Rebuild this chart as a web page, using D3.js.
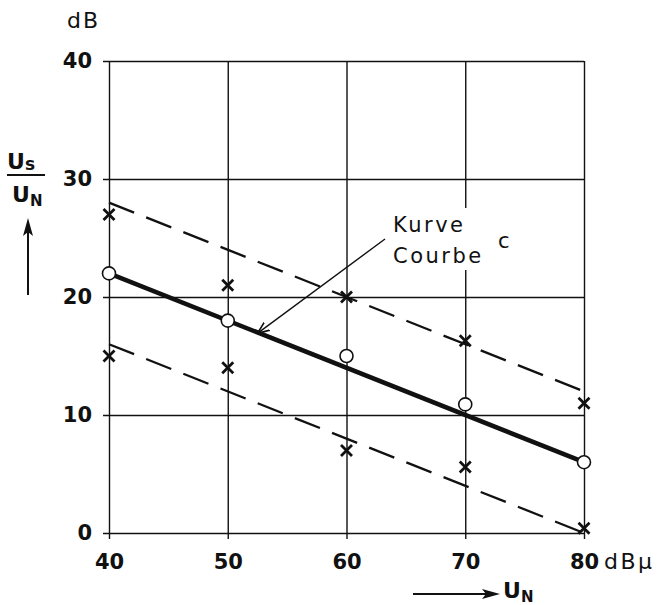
<!DOCTYPE html>
<html>
<head>
<meta charset="utf-8">
<script src="https://cdn.jsdelivr.net/npm/d3@7"></script>
<style>
  body { margin: 0; background: #fff; }
  text { font-family: "DejaVu Sans", sans-serif; fill: #111; }
</style>
</head>
<body>
<svg id="chart" width="662" height="605"></svg>
<script>
// values
const xTicks = [40, 50, 60, 70, 80]
const yTicks = [0, 10, 20, 30, 40]
const measuredN = [40, 50, 60, 70, 80]
const circleVals = [22, 18, 15, 10.9, 6]
const upperCross = [27, 21, 20, 16.3, 11]
const lowerCross = [15, 14, 7, 5.6, 0.4]
const curveC = [[40, 22], [80, 6]]
const upperBand = [[40, 28], [80, 12]]
const lowerBand = [[40, 16], [80, 0]]
const arrowTip = [52.5, 17]

const margin = {top: 61, bottom: 72, left: 109, right: 78}
const svg = d3.select('#chart')
const W = +svg.attr('width'), H = +svg.attr('height')
const w = W - margin.left - margin.right
const h = H - margin.top - margin.bottom

const x = d3.scaleLinear().domain([40, 80]).range([margin.left, margin.left + w])
const y = d3.scaleLinear().domain([0, 40]).range([margin.top + h, margin.top])

// grid = axes with long ticks
const yAxis = svg.append('g')
    .attr('transform', 'translate(' + (margin.left - 6) + ',0)')
    .call(d3.axisLeft(y).tickValues(yTicks).tickSize(-(w + 6)).tickSizeOuter(0).tickPadding(11))
yAxis.select('.domain').remove()
yAxis.selectAll('line').attr('stroke', '#111').attr('stroke-width', 1.4)
yAxis.selectAll('text')
    .style('font-family', '"DejaVu Sans", sans-serif')
    .style('font-weight', 'bold')
    .style('font-size', '21px')
    .attr('fill', '#111')

const xAxis = svg.append('g')
    .attr('transform', 'translate(0,' + (margin.top + h + 6) + ')')
    .call(d3.axisBottom(x).tickValues(xTicks).tickSize(-(h + 6)).tickSizeOuter(0).tickPadding(15))
xAxis.select('.domain').remove()
xAxis.selectAll('line').attr('stroke', '#111').attr('stroke-width', 1.4)
xAxis.selectAll('text')
    .style('font-family', '"DejaVu Sans", sans-serif')
    .style('font-weight', 'bold')
    .style('font-size', '21px')
    .attr('fill', '#111')

// white box behind the label knocks out the grid line
svg.append('rect')
    .attr('x', 388).attr('y', 208).attr('width', 122).attr('height', 62)
    .attr('fill', '#fff')

const line = d3.line().x(d => x(d[0])).y(d => y(d[1]))

svg.append('path').datum(upperBand).attr('d', line)
    .attr('fill', 'none').attr('stroke', '#111').attr('stroke-width', 2.3)
    .attr('stroke-dasharray', '27,13')
svg.append('path').datum(lowerBand).attr('d', line)
    .attr('fill', 'none').attr('stroke', '#111').attr('stroke-width', 2.3)
    .attr('stroke-dasharray', '27,13')
svg.append('path').datum(curveC).attr('d', line)
    .attr('fill', 'none').attr('stroke', '#111').attr('stroke-width', 4.5)

// circles
svg.append('g').selectAll('circle')
    .data(measuredN.map((n, i) => [n, circleVals[i]]))
    .enter().append('circle')
    .attr('cx', d => x(d[0])).attr('cy', d => y(d[1])).attr('r', 6.5)
    .attr('fill', '#fff').attr('stroke', '#111').attr('stroke-width', 1.6)

// crosses
const crossData = measuredN.map((n, i) => [n, upperCross[i]])
    .concat(measuredN.map((n, i) => [n, lowerCross[i]]))
svg.append('g').selectAll('path')
    .data(crossData)
    .enter().append('path')
    .attr('d', d => {
        const cx = x(d[0]), cy = y(d[1]), s = 5.5
        return 'M' + (cx - s) + ',' + (cy - s) + 'L' + (cx + s) + ',' + (cy + s) +
            'M' + (cx - s) + ',' + (cy + s) + 'L' + (cx + s) + ',' + (cy - s)
    })
    .attr('stroke', '#111').attr('stroke-width', 2.8)

// annotation
svg.append('defs').append('marker')
    .attr('id', 'head').attr('viewBox', '0 0 10 10')
    .attr('refX', 10).attr('refY', 5)
    .attr('markerWidth', 12).attr('markerHeight', 12)
    .attr('markerUnits', 'userSpaceOnUse')
    .attr('orient', 'auto')
    .append('path').attr('d', 'M0,1L10,5L0,9').attr('fill', 'none')
    .attr('stroke', '#111').attr('stroke-width', 1.4)

svg.append('line')
    .attr('x1', 385).attr('y1', 239)
    .attr('x2', x(arrowTip[0])).attr('y2', y(arrowTip[1]) + 1)
    .attr('stroke', '#111').attr('stroke-width', 1.4)
    .attr('marker-end', 'url(#head)')

svg.append('text').attr('x', 393).attr('y', 232)
    .style('font-size', '21px').style('letter-spacing', '2.5px').text('Kurve')
svg.append('text').attr('x', 393).attr('y', 263)
    .style('font-size', '21px').style('letter-spacing', '2.5px').text('Courbe')
svg.append('text').attr('x', 498).attr('y', 248)
    .style('font-size', '21px').text('c')

// unit labels
svg.append('text').attr('x', 67).attr('y', 28)
    .style('font-size', '22px').style('letter-spacing', '2px').text('dB')
svg.append('text').attr('x', 604).attr('y', 569)
    .style('font-size', '22px').style('letter-spacing', '2.5px').text('dBμ')

// y quantity Us / UN with arrow
const yl = svg.append('g')
const us = yl.append('text').attr('x', 7).attr('y', 169)
    .style('font-size', '22px').style('font-weight', 'bold').text('U')
us.append('tspan').style('font-size', '17px').attr('dy', 1).text('s')
yl.append('line').attr('x1', 7).attr('x2', 45).attr('y1', 175).attr('y2', 175)
    .attr('stroke', '#111').attr('stroke-width', 2.2)
const un = yl.append('text').attr('x', 12).attr('y', 202)
    .style('font-size', '22px').style('font-weight', 'bold').text('U')
un.append('tspan').style('font-size', '15px').attr('dy', 4).text('N')
yl.append('line').attr('x1', 28).attr('x2', 28).attr('y1', 295).attr('y2', 222)
    .attr('stroke', '#111').attr('stroke-width', 2)
yl.append('path').attr('d', 'M23,236L28,218L33,236L28,232Z').attr('fill', '#111')

// x quantity UN with arrow
const xl = svg.append('g')
xl.append('line').attr('x1', 413).attr('x2', 486).attr('y1', 594).attr('y2', 594)
    .attr('stroke', '#111').attr('stroke-width', 2)
xl.append('path').attr('d', 'M482,589L500,594L482,599L486,594Z').attr('fill', '#111')
const un2 = xl.append('text').attr('x', 503).attr('y', 598)
    .style('font-size', '22px').style('font-weight', 'bold').text('U')
un2.append('tspan').style('font-size', '15px').attr('dy', 4).text('N')
</script>
</body>
</html>
